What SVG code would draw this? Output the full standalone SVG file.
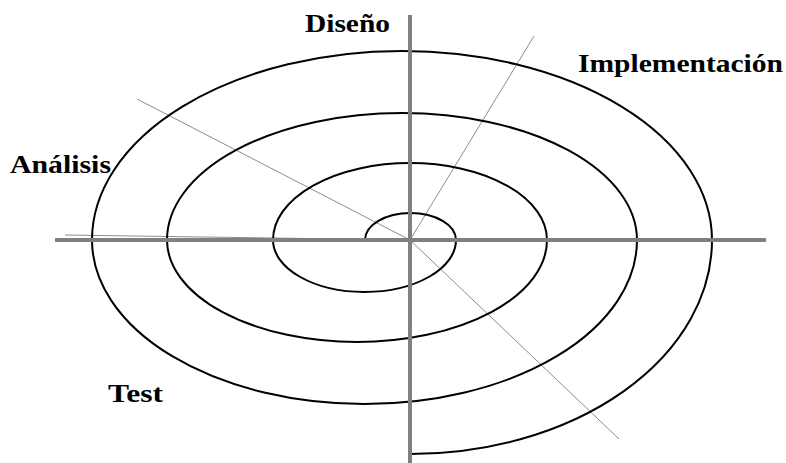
<svg xmlns="http://www.w3.org/2000/svg" width="786" height="463" viewBox="0 0 786 463">
  <style>
    .axis { stroke: #808080; stroke-width: 4; fill: none; }
    .ray { stroke: #8c8c8c; stroke-width: 1; fill: none; }
    .spiral { stroke: #000000; stroke-width: 2; fill: none; }
    .label { font-family: "Liberation Serif", "Times New Roman", serif; font-weight: bold; font-size: 26px; fill: #000000; }
  </style>
  <rect width="786" height="463" fill="#ffffff"/>
  <g id="connectors">
    <line class="ray" x1="65" y1="235" x2="410" y2="240"/>
    <line class="ray" x1="137" y1="99" x2="410" y2="240"/>
    <line class="ray" x1="410" y1="240" x2="534" y2="36"/>
    <line class="ray" x1="410" y1="240" x2="619" y2="439"/>
    <path id="spiral" class="spiral" d="M 365 240 A 45.5 27 0 0 1 456 240 A 91.5 52 0 0 1 273 240 A 137 77 0 0 1 547 240 A 190 102 0 0 1 167 240 A 235 127 0 0 1 637 240 A 272.5 164 0 0 1 92 240 A 310 189 0 0 1 712 240 A 302 214 0 0 1 410 454"/>
    <line class="axis" x1="55" y1="240" x2="766" y2="240"/>
    <line class="axis" x1="410" y1="15" x2="410" y2="463"/>
  </g>
  <g id="diseno"><text class="label" x="305" y="32" textLength="85" lengthAdjust="spacingAndGlyphs">Diseño</text></g>
  <g id="implementacion"><text class="label" x="578" y="72" textLength="205" lengthAdjust="spacingAndGlyphs">Implementación</text></g>
  <g id="analisis"><text class="label" x="10" y="173" textLength="101" lengthAdjust="spacingAndGlyphs">Análisis</text></g>
  <g id="test"><text class="label" x="108" y="402" textLength="55" lengthAdjust="spacingAndGlyphs">Test</text></g>
</svg>
